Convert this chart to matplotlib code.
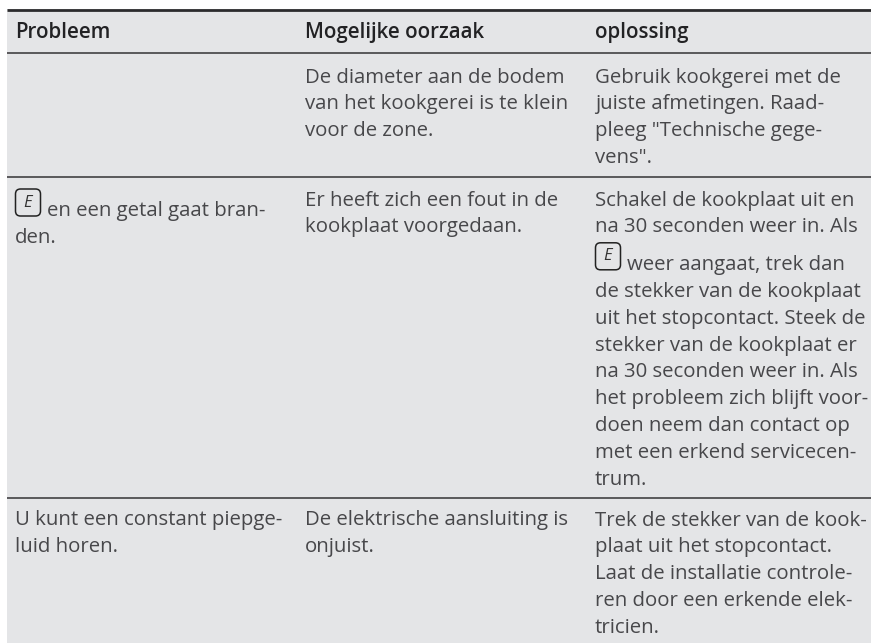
import matplotlib
matplotlib.use("Agg")
import matplotlib.pyplot as plt
from matplotlib.patches import FancyBboxPatch, Rectangle

plt.rcParams['font.family'] = ['Open Sans', 'DejaVu Sans']

headers = ["Probleem", "Mogelijke oorzaak", "oplossing"]

# one list of lines per cell, None = line that holds the E display symbol
col1 = [
    [],
    [None, "den."],
    ["U kunt een constant piepge-", "luid horen."],
]
col2 = [
    ["De diameter aan de bodem", "van het kookgerei is te klein", "voor de zone."],
    ["Er heeft zich een fout in de", "kookplaat voorgedaan."],
    ["De elektrische aansluiting is", "onjuist."],
]
col3 = [
    ["Gebruik kookgerei met de", "juiste afmetingen. Raad-", "pleeg \"Technische gege-", "vens\"."],
    ["Schakel de kookplaat uit en", "na 30 seconden weer in. Als", None,
     "de stekker van de kookplaat", "uit het stopcontact. Steek de", "stekker van de kookplaat er",
     "na 30 seconden weer in. Als", "het probleem zich blijft voor-", "doen neem dan contact op",
     "met een erkend servicecen-", "trum."],
    ["Trek de stekker van de kook-", "plaat uit het stopcontact.", "Laat de installatie controle-",
     "ren door een erkende elek-", "tricien."],
]
symbol_text = {0: "en een getal gaat bran-", 2: "weer aangaat, trek dan"}

BG = "#e4e5e7"
INK = "#47474a"
FS = 14.7
PITCH = 26.9
SYMBOL_DROP = 10.5  # lines from the symbol onward sit lower
col_x = [15, 305, 595]
row_top = [82.5, 205.5, 525.5]  # baseline of first line in each row


def e_symbol(ax, x, base):
    ax.add_patch(FancyBboxPatch((x + 0.5, base - 27), 25, 27, boxstyle="round,pad=0,rounding_size=5",
                                fc="none", ec="#222222", lw=1.1))
    ax.text(x + 13, base - 13.5, "E", fontsize=12, style="italic", ha="center", va="center",
            color="#333333")


fig = plt.figure(figsize=(8.71, 6.44), dpi=100)
ax = fig.add_axes([0, 0, 1, 1])
ax.set_xlim(0, 871)
ax.set_ylim(644, 0)
ax.axis("off")

ax.add_patch(Rectangle((7, 9), 864, 634, fc=BG, ec="none"))
ax.hlines(10, 7, 871, color="#2b2b2d", lw=2.0)
for y in [53, 177, 497.5]:
    ax.hlines(y, 7, 871, color="#333335", lw=1.1)

for x, h in zip(col_x, headers):
    ax.text(x, 38, h, fontsize=14.8, fontweight="semibold", color="#222224", va="baseline")

for x, col in zip(col_x, [col1, col2, col3]):
    for r, cell in enumerate(col):
        drop = 0
        for i, line in enumerate(cell):
            if line is None:
                drop = SYMBOL_DROP
            base = row_top[r] + i * PITCH + drop
            if line is None:
                e_symbol(ax, x, base)
                ax.text(x + 32, base, symbol_text[i], fontsize=FS, color=INK, va="baseline")
            else:
                ax.text(x, base, line, fontsize=FS, color=INK, va="baseline")

fig.savefig("out.png", dpi=100)
